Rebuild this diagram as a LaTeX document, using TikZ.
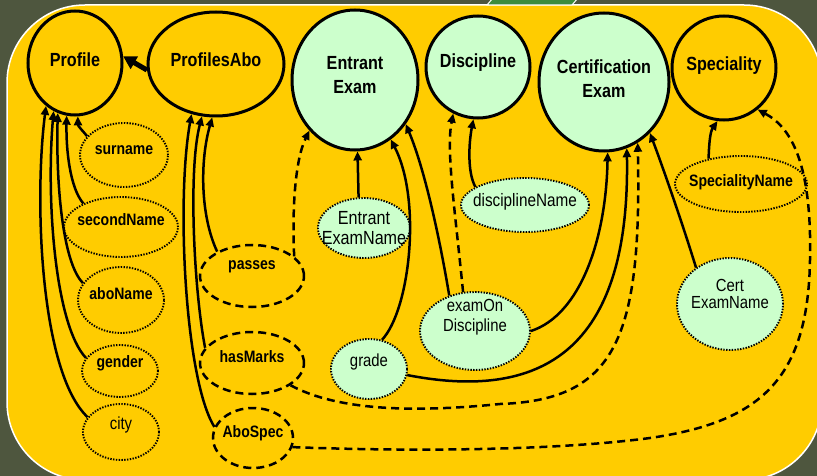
\documentclass[tikz,border=0pt]{standalone}
\usepackage{fontspec}
\setmainfont{Liberation Sans}[FakeStretch=0.85]
\usetikzlibrary{positioning,shapes.geometric,arrows.meta}

\definecolor{slate}{RGB}{78,86,62}
\definecolor{panel}{RGB}{255,204,0}
\definecolor{mint}{RGB}{204,255,204}
\definecolor{tabgreen}{RGB}{60,140,60}

\tikzset{
  concept/.style={ellipse,draw,line width=3pt,inner sep=0pt},
  attr/.style={ellipse,draw,line width=1.9pt,dash pattern=on 1.4pt off 1.4pt,inner sep=0pt},
  rel/.style={ellipse,draw,line width=2.5pt,dash pattern=on 8pt off 5pt,inner sep=0pt},
  dims/.style 2 args={minimum width=#1pt,minimum height=#2pt},
  bigtxt/.style={font=\fontsize{19}{24}\selectfont\bfseries,align=center},
  attxt/.style={font=\fontsize{16.5}{19}\selectfont\bfseries,align=center},
  valtxt/.style={font=\fontsize{17.5}{18}\selectfont,align=center},
  link/.style={line width=2.5pt,-{Triangle[length=9pt,width=8pt]}},
  dlink/.style={link,dash pattern=on 8pt off 5pt},
}

\begin{document}
\begin{tikzpicture}[x=1pt,y=-1pt]
  \useasboundingbox (0,0) rectangle (817,476);
  \clip (0,0) rectangle (817,476);
  \fill[slate] (0,0) rectangle (817,476);
  \draw[white,line width=1.5pt,fill=panel,rounded corners=78pt] (7,5) rectangle (822,480);
  \draw[white,line width=1pt,fill=tabgreen] (487,5) -- (493,-2) -- (578,-2) -- (572,5) -- cycle;

  \node[concept,fill=panel,dims={94}{104},label={[bigtxt,yshift=3pt]center:Profile}] (profile) at (75,63) {};
  \node[concept,fill=panel,dims={136}{104},label={[bigtxt,yshift=4pt]center:ProfilesAbo}] (profabo) at (216,64) {};
  \node[concept,fill=mint,dims={126}{140},label={[bigtxt,yshift=5pt]center:{Entrant\\Exam}}] (entrant) at (355,80) {};
  \node[concept,fill=mint,dims={104}{102},label={[bigtxt,yshift=4pt]center:Discipline}] (discipline) at (478,67) {};
  \node[concept,fill=mint,dims={130}{138},label={[bigtxt,yshift=3pt]center:{Certification\\Exam}}] (certexam) at (604,82) {};
  \node[concept,fill=panel,dims={104}{104},label={[bigtxt,yshift=2pt]center:Speciality}] (speciality) at (724,68) {};

  \node[attr,fill=panel,dims={88}{64},label={[attxt,yshift=5pt]center:surname}] (surname) at (124,155) {};
  \node[attr,fill=panel,dims={114}{60},label={[attxt,yshift=7pt]center:secondName}] (secondname) at (121,227) {};
  \node[attr,fill=panel,dims={86}{66},label={[attxt,yshift=6pt]center:aboName}] (aboname) at (121,300) {};
  \node[attr,fill=panel,dims={76}{52},label={[attxt,yshift=8pt]center:gender}] (gender) at (120,371) {};
  \node[attr,fill=panel,dims={76}{56},label={[valtxt,yshift=7pt]center:city}] (city) at (121,432) {};

  \node[rel,fill=panel,dims={104}{62},label={[attxt,yshift=9pt]center:passes}] (passes) at (252,276) {};
  \node[rel,fill=panel,dims={104}{62},label={[attxt,yshift=6pt]center:hasMarks}] (hasmarks) at (252,363) {};
  \node[rel,fill=panel,dims={80}{60},label={[attxt,yshift=5pt]center:AboSpec}] (abospec) at (253,438) {};

  \node[attr,fill=mint,dims={92}{60},label={[valtxt,font=\fontsize{19}{20}\selectfont]center:{Entrant\\ExamName}}] (entrantname) at (364,228) {};
  \node[attr,fill=mint,dims={76}{60},label={[valtxt,yshift=7pt]center:grade}] (grade) at (369,369) {};
  \node[attr,fill=mint,dims={110}{78},label={[valtxt,font=\fontsize{17.5}{20}\selectfont,yshift=14pt]center:{examOn\\Discipline}}] (examon) at (475,331) {};
  \node[attr,fill=mint,dims={128}{54},label={[valtxt,font=\fontsize{18}{20}\selectfont,yshift=3pt]center:disciplineName}] (discname) at (525,205) {};
  \node[attr,fill=mint,dims={106}{92},label={[valtxt,font=\fontsize{17.5}{17}\selectfont,yshift=10pt]center:{Cert\\ExamName}}] (certname) at (730,304) {};
  \node[attr,fill=panel,dims={132}{56},label={[attxt,yshift=2pt]center:SpecialityName}] (specname) at (741,184) {};

  \draw[link] (surname.153) .. controls (82,130) and (78,126) .. (profile.273);
  \draw[link] (secondname.148) .. controls (70,188) and (66,150) .. (profile.261);
  \draw[link] (aboname.156) .. controls (62,262) and (56,180) .. (profile.251);
  \draw[link] (gender.159) .. controls (55,325) and (46,200) .. (profile.246);
  \draw[link] (city.156) .. controls (40,372) and (34,200) .. (profile.236);

  \draw[link] (passes.145) .. controls (200,215) and (200,160) .. (profabo.266);
  \draw[link] (hasmarks.162) .. controls (194,290) and (188,170) .. (profabo.255);
  \draw[link] (abospec.164) .. controls (185,380) and (176,200) .. (profabo.244);
  \draw[line width=5pt,-{Triangle[length=13pt,width=14pt]}] (profabo.185) -- (profile.8);

  \draw[link] (entrantname.100) -- (entrant.272);
  \draw[dlink] (passes.25) .. controls (292,210) and (295,160) .. (entrant.228);
  \draw[link] (grade.66) .. controls (410,310) and (422,200) .. (entrant.301);
  \draw[link] (examon.126) .. controls (440,240) and (425,170) .. (entrant.319);

  \draw[dlink] (examon.107) .. controls (455,210) and (446,150) .. (discipline.242);
  \draw[link] (discname.160) .. controls (467,172) and (469,142) .. (discipline.265);

  \draw[link] (examon.east) .. controls (580,315) and (606,240) .. (certexam.273);
  \draw[link] (grade.351) .. controls (560,405) and (630,330) .. (certexam.289);
  \draw[dlink] (hasmarks.-30) .. controls (340,412) and (420,412) .. (500,404)
    .. controls (615,400) and (642,340) .. (certexam.299);
  \draw[link] (certname.133) .. controls (682,222) and (662,165) .. (certexam.312);

  \draw[link] (specname.142) .. controls (709,145) and (710,132) .. (speciality.263);
  \draw[dlink] (abospec.-13) .. controls (420,452) and (560,450) .. (650,438)
    .. controls (760,422) and (808,380) .. (810,260)
    .. controls (812,165) and (792,128) .. (speciality.309);
\end{tikzpicture}
\end{document}
